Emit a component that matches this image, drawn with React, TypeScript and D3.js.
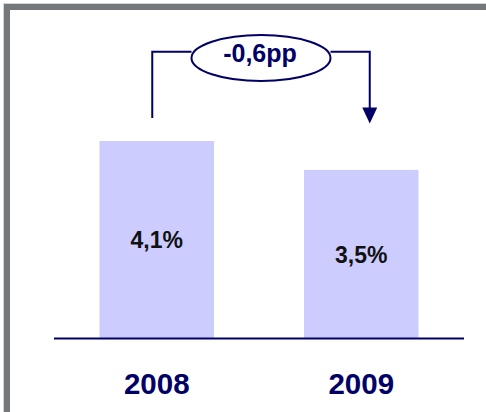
import React from "react";
import * as d3 from "d3";

const years = ["2008", "2009"];
const values = [4.1, 3.5];
const valueLabels = ["4,1%", "3,5%"];
const changeLabel = "-0,6pp";

const W = 486;
const H = 412;
const NAVY = "#000066";
const FONT = "Arial, 'Liberation Sans', Helvetica, sans-serif";

export default function App() {
  const x = d3
    .scaleBand<string>()
    .domain(years)
    .range([54, 464])
    .paddingInner(0.44)
    .paddingOuter(0.2225);
  const y = d3.scaleLinear().domain([0, 4.1]).range([338.5, 141]);

  const c0 = (x(years[0]) ?? 0) + x.bandwidth() / 2;
  const c1 = (x(years[1]) ?? 0) + x.bandwidth() / 2;
  const lx = c0 - 4.5;
  const rx = c1 + 8.5;
  const ecx = (lx + rx) / 2;
  const ecy = 58;
  const erx = 69.5;
  const ery = 23;
  const topY = 51.7;

  return (
    <svg
      width={W}
      height={H}
      style={{ position: "fixed", left: 0, top: 0, background: "#fff" }}
    >
      {/* frame */}
      <rect x={3} y={3} width={W - 3} height={1} fill="#d4d5d6" />
      <rect x={3} y={3} width={1} height={H - 3} fill="#d4d5d6" />
      <rect x={4} y={4} width={W - 4} height={6} fill="#75787b" />
      <rect x={4} y={4} width={6} height={H - 4} fill="#75787b" />

      {/* bars */}
      {years.map((yr, i) => (
        <rect
          key={yr}
          x={x(yr)}
          y={y(values[i])}
          width={x.bandwidth()}
          height={y(0) - y(values[i])}
          fill="#ccccff"
        />
      ))}

      {/* baseline */}
      <line x1={54} x2={464} y1={y(0)} y2={y(0)} stroke={NAVY} strokeWidth={2} />

      {/* value labels */}
      {years.map((yr, i) => (
        <text
          key={"v" + yr}
          x={(x(yr) ?? 0) + x.bandwidth() / 2}
          y={(y(values[i]) + y(0)) / 2 + 8.3}
          textAnchor="middle"
          fontFamily={FONT}
          fontWeight="bold"
          fontSize={23}
          fill="#111"
        >
          {valueLabels[i]}
        </text>
      ))}

      {/* year labels */}
      {years.map((yr) => (
        <text
          key={"y" + yr}
          x={(x(yr) ?? 0) + x.bandwidth() / 2}
          y={393.5}
          textAnchor="middle"
          fontFamily={FONT}
          fontWeight="bold"
          fontSize={29.5}
          fill={NAVY}
        >
          {yr}
        </text>
      ))}

      {/* connector */}
      <path
        d={`M${lx},118 V${topY} H${ecx - erx}`}
        fill="none"
        stroke={NAVY}
        strokeWidth={2}
      />
      <path
        d={`M${ecx + erx},${topY} H${rx} V110`}
        fill="none"
        stroke={NAVY}
        strokeWidth={2}
      />
      <path
        d={`M${rx - 7.5},107.5 L${rx + 7.5},107.5 L${rx},123.5 Z`}
        fill={NAVY}
      />
      <ellipse
        cx={ecx}
        cy={ecy}
        rx={erx}
        ry={ery}
        fill="#fff"
        stroke={NAVY}
        strokeWidth={2}
      />
      <text
        x={ecx - 1}
        y={62}
        textAnchor="middle"
        fontFamily={FONT}
        fontWeight="bold"
        fontSize={25}
        fill={NAVY}
      >
        {changeLabel}
      </text>
    </svg>
  );
}
